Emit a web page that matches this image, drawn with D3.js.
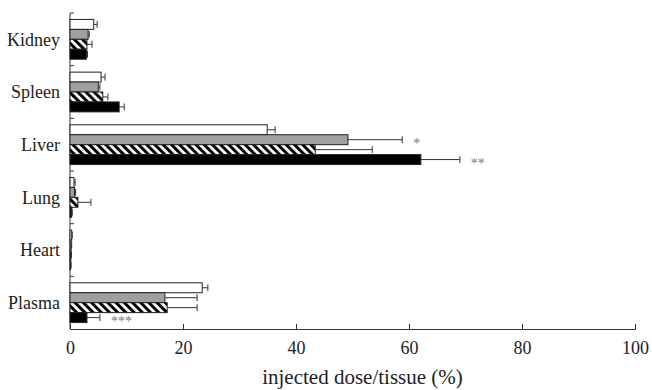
<!DOCTYPE html>
<meta charset="utf-8">
<style>
  body { margin: 0; background: #fff; }
  text { font-family: 'Liberation Serif', 'Times New Roman', serif; fill: #222; }
  .axis path, .axis line { stroke: #333; }
  .bar { stroke: #222; stroke-width: 1px; }
  .err { stroke: #333; stroke-width: 1px; fill: none; }
  .sig { fill: #777; font-size: 14px; }
</style>
<body>
<script src="https://d3js.org/d3.v7.min.js"></script>
<script>
  // tissues (top to bottom) and the four groups drawn in each tissue
  const organs = ["Kidney", "Spleen", "Liver", "Lung", "Heart", "Plasma"];
  const groups = ["g1", "g2", "g3", "g4"];

  // mean % injected dose per tissue, one array per group
  const g1Mean = [4.2, 5.5, 34.9, 0.7, 0.3, 23.4];
  const g2Mean = [3.2, 5.0, 49.2, 0.8, 0.2, 16.8];
  const g3Mean = [3.0, 5.8, 43.4, 1.4, 0.15, 17.2];
  const g4Mean = [2.9, 8.7, 62.1, 0.3, 0.1, 3.0];

  // error (SD) per tissue
  const g1Err = [0.6, 0.7, 1.4, 0.2, 0.1, 1.0];
  const g2Err = [0.2, 0.3, 9.6, 0.2, 0.1, 5.7];
  const g3Err = [0.9, 0.9, 10.1, 2.3, 0.1, 5.3];
  const g4Err = [0.2, 0.9, 6.9, 0.1, 0.1, 2.3];

  // significance marks
  const sigOrgan = ["Liver", "Liver", "Plasma"];
  const sigGroup = ["g2", "g4", "g4"];
  const sigLabel = ["*", "**", "***"];

  const xTicks = [0, 20, 40, 60, 80, 100];

  const means = [g1Mean, g2Mean, g3Mean, g4Mean];
  const errs = [g1Err, g2Err, g3Err, g4Err];
  const fills = ["#fff", "#a0a0a0", "url(#hatch)", "#000"];

  const rows = [];
  organs.forEach((o, i) => groups.forEach((g, j) => {
    rows.push({ organ: o, group: g, gi: j, value: means[j][i], err: errs[j][i] });
  }));

  const width = 652, height = 390;
  const margin = { top: 13, right: 17, bottom: 61, left: 70 };

  const svg = d3.select("body").append("svg")
      .attr("width", width)
      .attr("height", height);

  const pat = svg.append("defs").append("pattern")
      .attr("id", "hatch")
      .attr("patternUnits", "userSpaceOnUse")
      .attr("width", 5.8)
      .attr("height", 10)
      .attr("patternTransform", "rotate(-45)");
  pat.append("rect").attr("width", 5.8).attr("height", 10).attr("fill", "#fff");
  pat.append("rect").attr("width", 3).attr("height", 10).attr("fill", "#000");

  const x = d3.scaleLinear()
      .domain([0, 100])
      .range([margin.left, width - margin.right]);

  const y = d3.scaleBand()
      .domain(organs)
      .range([margin.top, height - margin.bottom]);

  const yg = d3.scaleBand()
      .domain(groups)
      .range([0, y.bandwidth()])
      .paddingOuter(0.65);

  // x axis with ticks pointing up
  svg.append("g")
      .attr("class", "axis")
      .attr("transform", `translate(0,${height - margin.bottom})`)
      .call(d3.axisBottom(x).tickValues(xTicks).tickSize(-5).tickPadding(12))
      .call(g => g.selectAll("text").style("font-size", "18px")
          .style("font-family", "'Liberation Serif', serif").attr("fill", "#222"));

  // y axis: line plus ticks at the band boundaries
  const yAxis = svg.append("g").attr("class", "axis");
  yAxis.append("line")
      .attr("x1", x(0)).attr("x2", x(0))
      .attr("y1", y.range()[0]).attr("y2", y.range()[1]);
  yAxis.selectAll(".yt")
      .data(organs.map(o => y(o)))
      .join("line")
      .attr("class", "yt")
      .attr("x1", x(0)).attr("x2", x(0) + 4)
      .attr("y1", d => d).attr("y2", d => d);
  yAxis.selectAll(".yl")
      .data(organs)
      .join("text")
      .attr("class", "yl")
      .attr("x", x(0) - 10)
      .attr("y", d => y(d) + y.bandwidth() / 2)
      .attr("dy", "0.35em")
      .attr("text-anchor", "end")
      .style("font-size", "18px")
      .text(d => d);

  const bars = svg.append("g");

  // error bars (right side only)
  const eb = bars.selectAll(".eg")
      .data(rows)
      .join("g")
      .attr("class", "err");
  eb.append("line")
      .attr("x1", d => x(d.value))
      .attr("x2", d => x(d.value + d.err))
      .attr("y1", d => y(d.organ) + yg(d.group) + yg.bandwidth() / 2)
      .attr("y2", d => y(d.organ) + yg(d.group) + yg.bandwidth() / 2);
  eb.append("line")
      .attr("x1", d => x(d.value + d.err))
      .attr("x2", d => x(d.value + d.err))
      .attr("y1", d => y(d.organ) + yg(d.group) + 1.5)
      .attr("y2", d => y(d.organ) + yg(d.group) + yg.bandwidth() - 1.5);

  bars.selectAll("rect")
      .data(rows)
      .join("rect")
      .attr("class", "bar")
      .attr("x", x(0))
      .attr("y", d => y(d.organ) + yg(d.group))
      .attr("width", d => x(d.value) - x(0))
      .attr("height", yg.bandwidth())
      .attr("fill", d => fills[d.gi]);

  // significance stars
  svg.selectAll(".sig")
      .data(sigLabel)
      .join("text")
      .attr("class", "sig")
      .attr("x", (d, i) => {
        const oi = organs.indexOf(sigOrgan[i]), gi = groups.indexOf(sigGroup[i]);
        return x(means[gi][oi] + errs[gi][oi]) + 11;
      })
      .attr("y", (d, i) => y(sigOrgan[i]) + yg(sigGroup[i]) + yg.bandwidth() / 2)
      .attr("dy", "0.6em")
      .text(d => d);

  svg.append("text")
      .attr("x", (x(0) + x(100)) / 2 + 10)
      .attr("y", height - 6)
      .attr("text-anchor", "middle")
      .style("font-size", "21px")
      .text("injected dose/tissue (%)");
</script>
</body>
